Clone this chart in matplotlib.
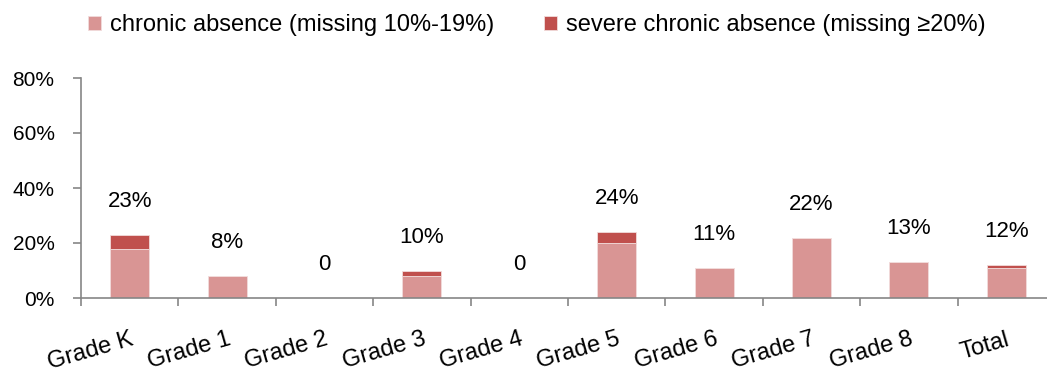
import numpy as np
import matplotlib.pyplot as plt

grades = ["Grade K", "Grade 1", "Grade 2", "Grade 3", "Grade 4",
          "Grade 5", "Grade 6", "Grade 7", "Grade 8", "Total"]
chronic = [18, 8, 0, 8, 0, 20, 11, 22, 13, 11]
severe = [5, 0, 0, 2, 0, 4, 0, 0, 0, 1]
labels = ["23%", "8%", "0", "10%", "0", "24%", "11%", "22%", "13%", "12%"]

light = "#D99594"
dark = "#C0504D"
axis_grey = "#868686"

plt.rcParams["font.family"] = ["Liberation Sans", "DejaVu Sans"]

fig = plt.figure(figsize=(10.47, 3.73), dpi=100)
ax = fig.add_axes([81 / 1047, 75 / 373, 974 / 1047, 220 / 373])

x = np.arange(len(grades))
ax.bar(x, chronic, width=0.4, color=light, edgecolor="#F2DCDB", linewidth=0.6,
       label="chronic absence (missing 10%-19%)")
ax.bar(x, severe, width=0.4, bottom=chronic, color=dark, edgecolor="#F2DCDB",
       linewidth=0.6, label="severe chronic absence (missing \u226520%)")

# value labels sit a fixed distance above each stack
totals = np.array(chronic) + np.array(severe)
for xi, t, lab in zip(x, totals, labels):
    ax.annotate(lab, (xi, t), xytext=(0, 24), textcoords="offset points",
                ha="center", va="center", fontsize=16)

ax.set_xlim(-0.5, len(grades) - 0.5)
ax.set_ylim(0, 80)
ax.set_yticks([0, 20, 40, 60, 80])
ax.set_yticklabels([f"{v}%" for v in [0, 20, 40, 60, 80]], fontsize=15)

ax.set_xticks(x)
ax.set_xticklabels(grades, fontsize=17, rotation=16, ha="right", va="top",
                   rotation_mode="anchor")
ax.set_xticks(np.arange(len(grades) + 1) - 0.5, minor=True)
ax.tick_params(axis="x", which="major", length=0, pad=22)
ax.tick_params(axis="x", which="minor", length=6, color=axis_grey, width=1.2)
ax.tick_params(axis="y", length=6, color=axis_grey, width=1.2, pad=13)

for side in ["top", "right"]:
    ax.spines[side].set_visible(False)
for side in ["left", "bottom"]:
    ax.spines[side].set_color(axis_grey)
    ax.spines[side].set_linewidth(1.2)

fig.legend(loc="upper left", bbox_to_anchor=(74 / 1047, 1.0), ncol=2,
           frameon=False, fontsize=17, handlelength=0.55, handleheight=0.55,
           handletextpad=0.38, columnspacing=2.1, borderaxespad=0.2)

fig.savefig("out.png", dpi=100)
